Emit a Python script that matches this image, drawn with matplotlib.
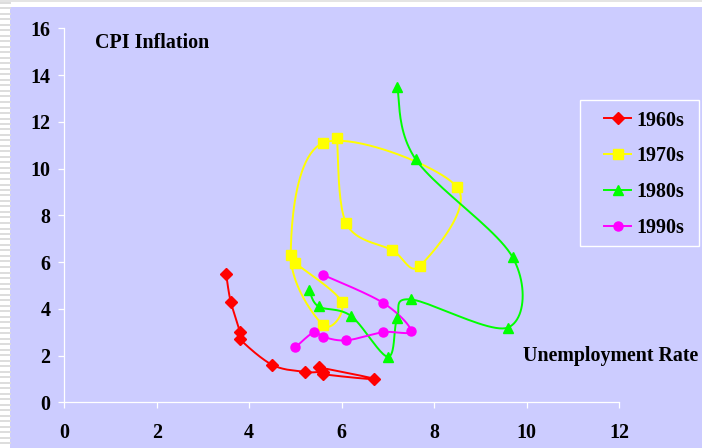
import numpy as np
import matplotlib
matplotlib.use("Agg")
import matplotlib.pyplot as plt
from matplotlib.patches import Rectangle
from matplotlib.lines import Line2D

# Unemployment rate (x) vs CPI inflation (y), by decade
unemp_60s = [5.5, 6.7, 5.6, 5.6, 5.2, 4.5, 3.8, 3.8, 3.6, 3.5]
infl_60s = [1.5, 1.0, 1.2, 1.3, 1.3, 1.6, 2.7, 3.0, 4.3, 5.5]

unemp_70s = [5.0, 6.0, 5.6, 4.9, 5.6, 8.5, 7.7, 7.1, 6.1, 5.9]
infl_70s = [5.95, 4.3, 3.3, 6.3, 11.1, 9.2, 5.85, 6.5, 7.65, 11.3]

unemp_80s = [7.2, 7.6, 9.7, 9.6, 7.5, 7.2, 7.0, 6.2, 5.5, 5.3]
infl_80s = [13.5, 10.4, 6.2, 3.2, 4.4, 3.6, 1.95, 3.7, 4.1, 4.8]

unemp_90s = [5.6, 6.9, 7.5, 6.9, 6.1, 5.6, 5.4, 5.0]
infl_90s = [5.45, 4.25, 3.05, 3.0, 2.65, 2.8, 3.0, 2.35]

labels = ["1960s", "1970s", "1980s", "1990s"]
colors = ["#FF0000", "#FFFF00", "#00FF00", "#FF00FF"]
markers = ["D", "s", "^", "o"]
marker_sizes = [6.0, 6.5, 7.0, 6.5]

x_ticks = [0, 2, 4, 6, 8, 10, 12]
y_ticks = [0, 2, 4, 6, 8, 10, 12, 14, 16]

W, H = 702, 448
BG = "#CCCCFF"
FONT = "Liberation Serif"

fig = plt.figure(figsize=(W / 100, H / 100), dpi=100)
fig.patch.set_facecolor("white")

# slide-style backdrop: striped left margin and lavender panel
for yy in np.arange(3, H, 5.5):
    fig.add_artist(Line2D([0, 10 / W], [1 - yy / H, 1 - yy / H],
                          color="#DDDDDD", lw=1.4, transform=fig.transFigure))
fig.add_artist(Line2D([0, 1], [1 - 1 / H, 1 - 1 / H], color="#E4E4E4", lw=1.4,
                      transform=fig.transFigure))
fig.add_artist(Rectangle((10 / W, 0), 1 - 10 / W, (H - 7) / H,
                         transform=fig.transFigure, facecolor=BG,
                         edgecolor="none", zorder=0))

x0, x1 = 64.3, 619.0
y0, y1 = 402.3, 28.3
ax = fig.add_axes([x0 / W, 1 - y0 / H, (x1 - x0) / W, (y0 - y1) / H])
ax.set_facecolor("none")
ax.set_xlim(0, 12)
ax.set_ylim(0, 16)

px_per_x = (x1 - x0) / 12
px_per_y = (y0 - y1) / 16


def smooth_path(xs, ys, n=24):
    """Bezier-smoothed path through the points, computed in screen proportions."""
    p = np.column_stack([np.asarray(xs) * px_per_x, np.asarray(ys) * px_per_y])
    out = []
    m = len(p)
    t = np.linspace(0, 1, n)[:, None]
    for i in range(m - 1):
        pa = p[i - 1] if i > 0 else p[i]
        pd = p[i + 2] if i + 2 < m else p[i + 1]
        c1 = p[i] + (p[i + 1] - pa) / 6
        c2 = p[i + 1] - (pd - p[i]) / 6
        seg = ((1 - t) ** 3) * p[i] + 3 * ((1 - t) ** 2) * t * c1 \
            + 3 * (1 - t) * t ** 2 * c2 + t ** 3 * p[i + 1]
        out.append(seg if i == 0 else seg[1:])
    out = np.vstack(out)
    return out[:, 0] / px_per_x, out[:, 1] / px_per_y


series = [(unemp_60s, infl_60s), (unemp_70s, infl_70s),
          (unemp_80s, infl_80s), (unemp_90s, infl_90s)]

handles = []
for (xs, ys), lab, col, mk, ms in zip(series, labels, colors, markers, marker_sizes):
    sx, sy = smooth_path(xs, ys)
    ax.plot(sx, sy, color=col, lw=1.4, zorder=3, clip_on=False)
    ax.plot(xs, ys, linestyle="none", marker=mk, ms=ms, color=col,
            markeredgecolor=col, zorder=4, clip_on=False)
    handles.append(Line2D([], [], color=col, lw=1.4, marker=mk, ms=ms,
                          markeredgecolor=col, label=lab))

# axes styling: white axis lines and ticks only
for s in ["top", "right"]:
    ax.spines[s].set_visible(False)
for s in ["left", "bottom"]:
    ax.spines[s].set_color("white")
    ax.spines[s].set_linewidth(0.9)

ax.set_xticks(x_ticks)
ax.set_yticks(y_ticks)
tick_font = dict(family=FONT, weight="bold", size=14.4)
ax.set_xticklabels([str(v) for v in x_ticks], fontdict=tick_font)
ax.set_yticklabels([str(v) for v in y_ticks], fontdict=tick_font)
ax.tick_params(axis="both", colors="white", length=4.3, width=0.9,
               direction="out", labelcolor="black")
ax.tick_params(axis="x", pad=10.5)
ax.tick_params(axis="y", pad=5.8)

ax.text(0.66, 15.38, "CPI Inflation", fontfamily=FONT, fontweight="bold",
        fontsize=14.4, ha="left", va="center")
ax.text(9.92, 2.0, "Unemployment Rate", fontfamily=FONT, fontweight="bold",
        fontsize=14.4, ha="left", va="center", clip_on=False)

# legend box
fig.add_artist(Rectangle((579.5 / W, 1 - 246 / H), (699 - 579.5) / W, (246 - 99.5) / H,
                         transform=fig.transFigure, facecolor=BG,
                         edgecolor="white", lw=1.0, zorder=5))
leg = fig.legend(handles=handles, loc="upper left",
                 bbox_to_anchor=(604 / W, 1 - 110.5 / H),
                 bbox_transform=fig.transFigure, frameon=False,
                 borderpad=0, borderaxespad=0, handlelength=1.35,
                 handletextpad=0.25, labelspacing=0.79, numpoints=1,
                 prop=dict(family=FONT, weight="bold", size=14.4))
leg.set_zorder(6)

fig.savefig("out.png", dpi=100, facecolor=fig.get_facecolor())
